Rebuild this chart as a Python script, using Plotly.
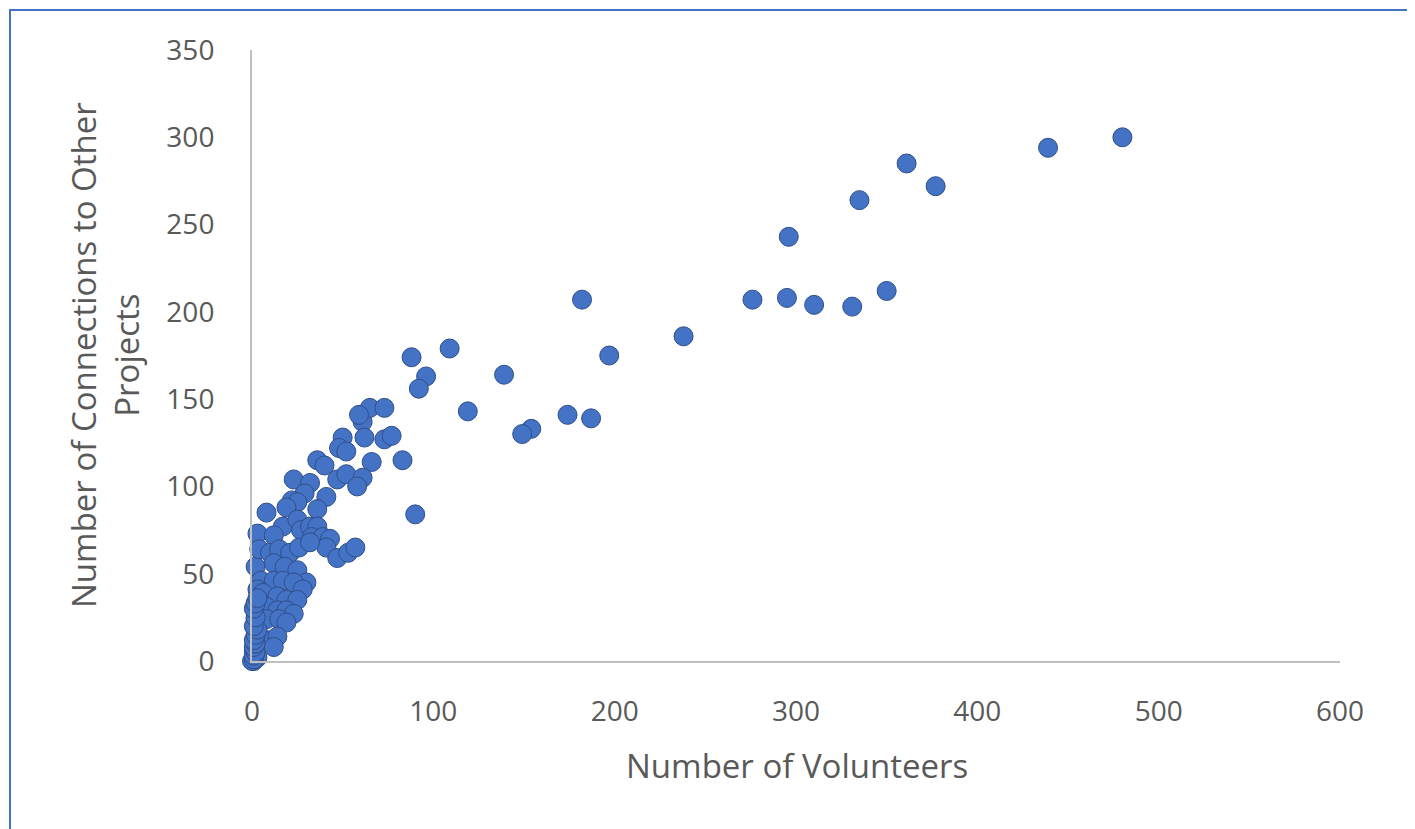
import plotly.graph_objects as go

volunteers = [480, 439, 377, 361, 335, 296, 276, 295, 310, 331, 350, 238, 197, 182, 174, 187, 154, 149, 139, 119, 109, 96, 88, 92, 90,
              61, 50, 62, 73, 77, 48, 52, 36, 40, 66, 83,
              47, 52, 61, 58, 23, 32, 29, 22, 25, 41, 36, 8, 19,
              17, 25, 27, 32, 36, 33, 39, 43, 3, 12, 41, 47, 53, 57,
              2, 4, 10, 15, 21, 26, 32, 12, 18, 25, 30, 5, 12, 17, 23, 28,
              3, 6, 14, 19, 25, 2, 8, 14, 19, 23, 2, 8, 15, 19, 3, 8, 14, 12, 1, 3, 1,
              0, 1, 1, 2, 1, 2, 1, 2, 3, 1, 2, 1, 2, 3, 65, 73, 59]
connections = [300, 294, 272, 285, 264, 243, 207, 208, 204, 203, 212, 186, 175, 207, 141, 139, 133, 130, 164, 143, 179, 163, 174, 156, 84,
               137, 128, 128, 127, 129, 122, 120, 115, 112, 114, 115,
               104, 107, 105, 100, 104, 102, 96, 92, 91, 94, 87, 85, 88,
               77, 81, 75, 77, 77, 71, 71, 70, 73, 72, 65, 59, 62, 65,
               54, 64, 62, 64, 62, 65, 68, 56, 54, 52, 45, 46, 46, 46, 45, 41,
               41, 39, 37, 35, 35, 33, 31, 29, 29, 27, 24, 24, 24, 22, 14, 12, 14, 8, 6, 2, 0,
               0, 1, 3, 5, 8, 10, 12, 15, 18, 20, 25, 30, 33, 36, 145, 145, 141]

x_title = "Number of Volunteers"
y_title = "Number of Connections to Other<br>Projects"

fig = go.Figure(go.Scatter(
    x=volunteers, y=connections, mode="markers", cliponaxis=False,
    marker=dict(size=19, color="#4472C4", line=dict(color="#2F4F8A", width=1)),
))

# page has an 8px body margin; plot area maps to reference pixels 252..1340 x 50..661
W, H = 1407, 821
L, T = 244, 42
PW, PH = 1088, 611

def px(xr):
    return (xr - 252) / PW

def py(yr):
    return (661 - yr) / PH

font = "Open Sans, Liberation Sans, sans-serif"
fig.update_layout(
    width=W, height=H,
    margin=dict(l=L, r=W - L - PW, t=T, b=H - T - PH),
    paper_bgcolor="white", plot_bgcolor="white",
    showlegend=False,
    font=dict(family=font, color="#595959", size=28),
    xaxis=dict(range=[0, 600], dtick=100, showgrid=False, zeroline=False,
               showline=True, linecolor="#BFBFBF", linewidth=2,
               ticks="outside", ticklen=24, tickcolor="rgba(0,0,0,0)",
               tickfont=dict(size=28, color="#595959")),
    yaxis=dict(range=[0, 350], dtick=50, showgrid=False, zeroline=False,
               showline=True, linecolor="#BFBFBF", linewidth=2,
               ticks="outside", ticklen=30, tickcolor="rgba(0,0,0,0)",
               tickfont=dict(size=28, color="#595959")),
    annotations=[
        dict(text=x_title, xref="paper", yref="paper", x=px(797), y=py(765),
             xanchor="center", yanchor="middle", showarrow=False,
             font=dict(size=33, color="#595959")),
        dict(text=y_title, xref="paper", yref="paper", x=px(105), y=py(355),
             xanchor="center", yanchor="middle", showarrow=False, textangle=-90,
             font=dict(size=33, color="#595959")),
    ],
    shapes=[dict(type="rect", xref="paper", yref="paper",
                 x0=px(10), x1=px(1408), y0=py(840), y1=py(10),
                 line=dict(color="#4472C4", width=2), layer="below")],
)

fig.write_html("out.html")
